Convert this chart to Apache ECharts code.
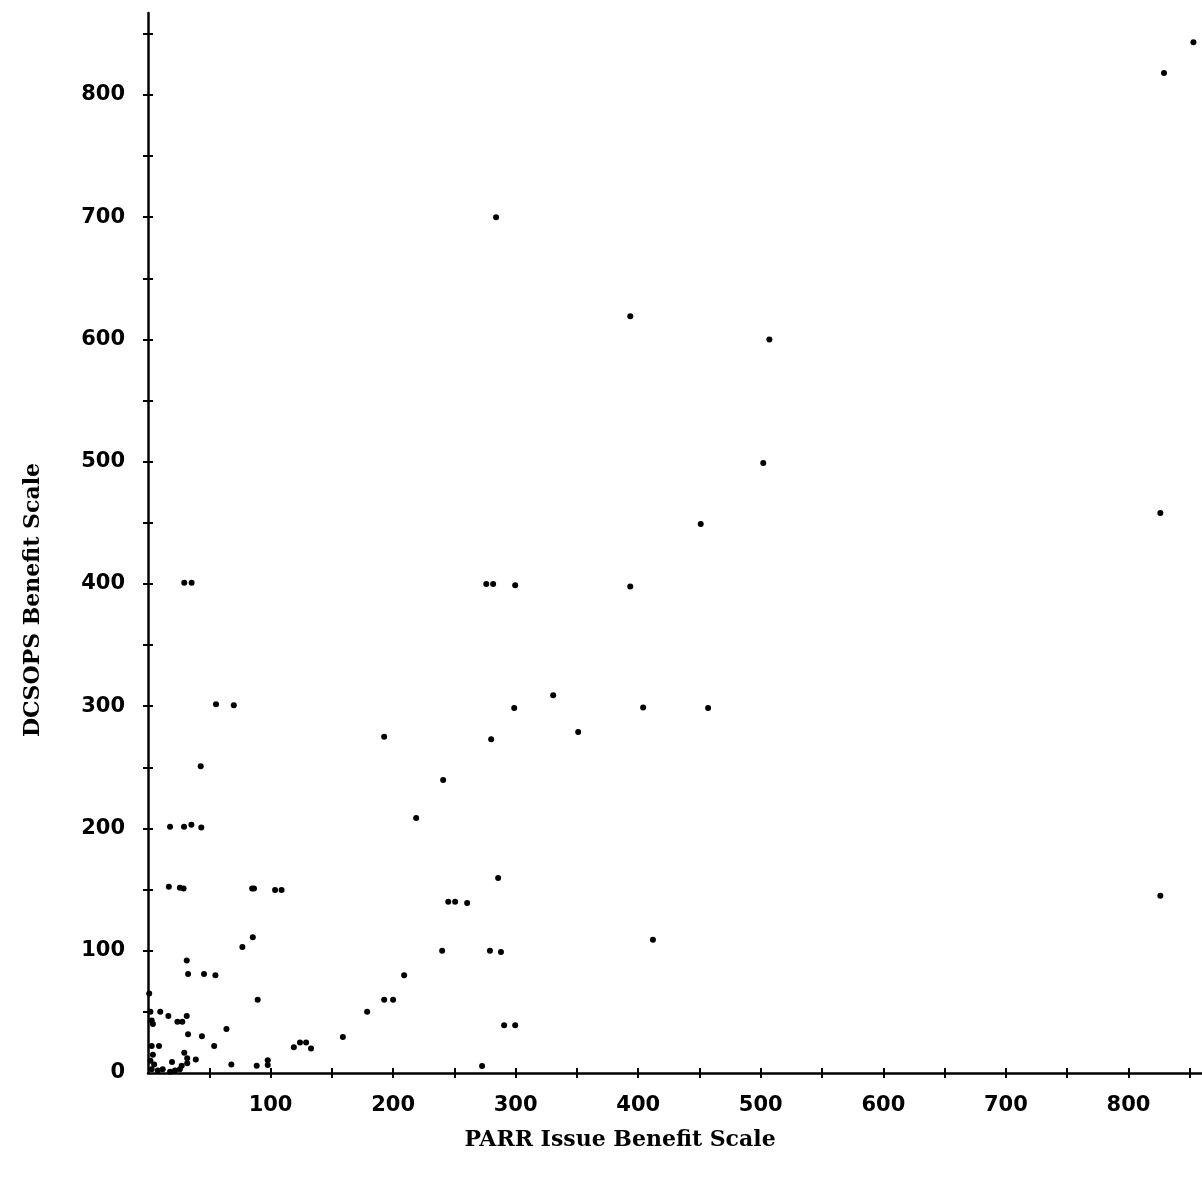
<!DOCTYPE html>
<html>
<head>
<meta charset="utf-8">
<title>PARR vs DCSOPS Benefit Scale</title>
<script src="https://cdn.jsdelivr.net/npm/echarts@6/dist/echarts.min.js"></script>
<style>
  html, body { margin: 0; padding: 0; background: #fff; }
  #chart { width: 1202px; height: 1191px; }
</style>
</head>
<body>
<div id="chart"></div>
<script>
// PARR issue benefit score for each issue (horizontal axis)
const parrBenefit = [
  853, 829, 284, 393.5, 507, 502, 451, 826, 826,
  276, 281.6, 299.6, 393.5,
  330.6, 298.8, 404, 457, 192.7, 280, 351,
  240.8, 218.8,
  285.7, 245, 250.6, 260.4, 412,
  240, 279, 288,
  209, 192.7, 200, 178.8, 159, 272.6, 290.6, 299.6,
  119, 124, 129, 133,
  29.6, 35.6, 55.5, 70, 43,
  18, 29.4, 35.4, 43.5,
  17, 26, 29, 85, 86.5, 103.7, 109,
  77, 85.5, 31.6, 32.7, 45.7, 55, 89.5,
  16.6, 24, 28, 31.6, 32.7, 44, 64, 54,
  29.6, 32, 32, 39, 19.6, 68, 88.7, 97.7, 97.7, 27.5,
  1, 2, 10, 3, 4, 3, 9, 4, 2, 5,
  3, 8, 12, 18, 22, 26
];

// DCSOPS benefit score for the same issues (vertical axis)
const dcsopsBenefit = [
  843, 818, 700, 619, 600, 499, 449, 458, 145,
  400, 400, 399, 398,
  309, 298.6, 299, 298.6, 275, 273, 279,
  239.7, 208.6,
  159.5, 140, 140, 139, 109,
  100, 100, 99,
  80, 60, 60, 50, 29.5, 5.7, 39, 39,
  21, 25, 25, 20,
  401, 401, 301.6, 300.8, 251,
  201.5, 201.5, 203, 200.7,
  152.4, 151.6, 151, 151, 151, 149.7, 149.7,
  103, 111, 92, 81, 81, 80, 60,
  46.6, 42, 42, 46.6, 31.6, 30, 36, 22,
  16.6, 12, 8, 11, 9, 7, 6, 10.4, 6.5, 6,
  65, 50, 50, 43, 40, 22, 22, 15, 10, 7,
  3, 2, 3, 1, 2, 3
];

// Axis ticks every 50, numbered every 100
const xTickValues = [50, 100, 150, 200, 250, 300, 350, 400, 450, 500, 550, 600, 650, 700, 750, 800, 850];
const xLabelValues = [100, 200, 300, 400, 500, 600, 700, 800];
const yTickValues = [50, 100, 150, 200, 250, 300, 350, 400, 450, 500, 550, 600, 650, 700, 750, 800, 850];
const yLabelValues = [0, 100, 200, 300, 400, 500, 600, 700, 800];

const points = parrBenefit.map((x, i) => [x, dcsopsBenefit[i]]);

const numberFont = {
  color: '#000',
  fontFamily: '"DejaVu Sans", sans-serif',
  fontWeight: 'bold',
  fontSize: 21
};
const titleFont = {
  color: '#000',
  fontFamily: '"DejaVu Serif", serif',
  fontWeight: 'bold',
  fontSize: 22
};
const axisInk = { color: '#000', width: 2.5 };
const tickInk = { color: '#000', width: 2 };

const chart = echarts.init(document.getElementById('chart'), null, { renderer: 'canvas' });

chart.setOption({
  animation: false,
  backgroundColor: '#fff',
  grid: { left: 148, right: 0, top: 13, bottom: 118, containLabel: false },
  xAxis: [
    {
      type: 'value', min: 0, max: 860, position: 'bottom',
      name: 'PARR Issue Benefit Scale',
      nameLocation: 'middle', nameGap: 56,
      nameTextStyle: Object.assign({ padding: [0, 110, 0, 0] }, titleFont),
      axisLine: { show: true, onZero: false, lineStyle: axisInk },
      axisTick: { show: true, customValues: xTickValues, length: 5, lineStyle: tickInk },
      axisLabel: Object.assign({ customValues: xLabelValues, margin: 22 }, numberFont),
      splitLine: { show: false }
    },
    {
      type: 'value', min: 0, max: 860, position: 'bottom', offset: 0,
      axisLine: { show: false },
      axisTick: { show: true, inside: true, customValues: xTickValues, length: 5, lineStyle: tickInk },
      axisLabel: { show: false },
      splitLine: { show: false }
    }
  ],
  yAxis: [
    {
      type: 'value', min: 0, max: 867, position: 'left',
      name: 'DCSOPS Benefit Scale',
      nameLocation: 'middle', nameGap: 104, nameRotate: 90,
      nameTextStyle: Object.assign({ padding: [0, 114, 0, 0] }, titleFont),
      axisLine: { show: true, onZero: false, lineStyle: axisInk },
      axisTick: { show: true, customValues: yTickValues, length: 5, lineStyle: tickInk },
      axisLabel: Object.assign({ customValues: yLabelValues, margin: 23 }, numberFont),
      splitLine: { show: false }
    },
    {
      type: 'value', min: 0, max: 867, position: 'left', offset: 0,
      axisLine: { show: false },
      axisTick: { show: true, inside: true, customValues: yTickValues, length: 5, lineStyle: tickInk },
      axisLabel: { show: false },
      splitLine: { show: false }
    }
  ],
  series: [
    {
      type: 'scatter',
      xAxisIndex: 0, yAxisIndex: 0,
      data: points,
      symbol: 'circle',
      symbolSize: 6,
      itemStyle: { color: '#000', opacity: 1 },
      clip: false
    }
  ]
});
</script>
</body>
</html>
